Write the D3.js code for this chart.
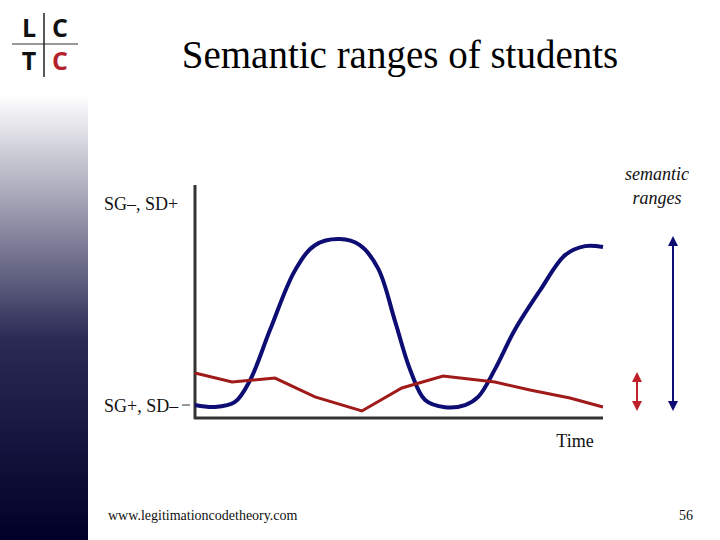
<!DOCTYPE html><html><head><meta charset="utf-8"><script src="https://cdn.jsdelivr.net/npm/d3@7"></script>
<style>body{margin:0}svg{display:block}</style></head><body><svg id="c" width="720" height="540"></svg>
<script>
const blueX=[0,4.9,9.8,13.5,18.4,24.5,29.4,35.5,40.4,44.9,49,52.7,56.4,61.3,66.2,69.4,73.5,78.4,84.6,90.7,95.6,100];
const blueY=[7.2,6.1,8.9,21,49,82,96,99.4,96,83,54,27,10,6,7.2,11.7,27,49,71,90.5,95.5,95];
const redX=[0,9.1,19.6,29.4,40.9,50.7,60.8,73.5,82.1,91.9,100];
const redY=[25,20,22.2,11.7,3.9,16.7,23.3,20,15.6,11.1,6.1];
const yLabels=["SG–, SD+","SG+, SD–"];
const svg=d3.select("#c");
const defs=svg.append("defs");
const g=defs.append("linearGradient").attr("id","gr").attr("x1",0).attr("x2",0).attr("y1",0).attr("y2",1);
g.append("stop").attr("offset","0").attr("stop-color","#ffffff");
g.append("stop").attr("offset","0.55").attr("stop-color","#2a2a55");
g.append("stop").attr("offset","1").attr("stop-color","#000028");
svg.append("rect").attr("x",0).attr("y",95).attr("width",88).attr("height",445).attr("fill","url(#gr)");
const L=svg.append("g");
L.append("line").attr("x1",12).attr("x2",78).attr("y1",44).attr("y2",44).attr("stroke","#999").attr("stroke-width",2);
L.append("line").attr("x1",44).attr("x2",44).attr("y1",13).attr("y2",77).attr("stroke","#222").attr("stroke-width",1.5);
[["L",29,37,"#111"],["C",60,37,"#111"],["T",29,70,"#111"],["C",60,70,"#b5222d"]].forEach(d=>L.append("text").attr("x",d[1]).attr("y",d[2]).attr("text-anchor","middle").attr("font-family","Open Sans").attr("font-weight","bold").attr("font-size",25).attr("fill",d[3]).text(d[0]));
svg.append("text").attr("x",400).attr("y",68).attr("text-anchor","middle").attr("font-family","Liberation Serif").attr("font-size",39).text("Semantic ranges of students");
const x=d3.scaleLinear().domain([0,100]).range([195,603]);
const y=d3.scaleLinear().domain([0,100]).range([418,238]);
svg.append("line").attr("x1",195).attr("x2",195).attr("y1",185).attr("y2",419).attr("stroke","#333").attr("stroke-width",3);
svg.append("line").attr("x1",194).attr("x2",603).attr("y1",y(0)).attr("y2",y(0)).attr("stroke","#333").attr("stroke-width",3);
svg.append("line").attr("x1",182).attr("x2",190).attr("y1",405).attr("y2",405).attr("stroke","#333");
svg.append("path").attr("d",d3.line().x(d=>x(d[0])).y(d=>y(d[1])).curve(d3.curveCatmullRom)(blueX.map((v,i)=>[v,blueY[i]]))).attr("fill","none").attr("stroke","#0d0d73").attr("stroke-width",4);
svg.append("path").attr("d",d3.line().x(d=>x(d[0])).y(d=>y(d[1]))(redX.map((v,i)=>[v,redY[i]]))).attr("fill","none").attr("stroke","#a01a1a").attr("stroke-width",3);
const T=(t,xx,yy,o={})=>svg.append("text").attr("x",xx).attr("y",yy).attr("font-family","Liberation Serif").attr("font-size",o.s||18).attr("text-anchor",o.a||"start").attr("font-style",o.i?"italic":"normal").attr("fill","#111").text(t);
T(yLabels[0],104,210);T(yLabels[1],104,412);
T("Time",575,447,{a:"middle"});
T("semantic",657,180,{a:"middle",i:1});T("ranges",657,204,{a:"middle",i:1});
T("www.legitimationcodetheory.com",108,520,{s:14});T("56",693,520,{s:14,a:"end"});
function arrow(xx,y1,y2,c){
 svg.append("line").attr("x1",xx).attr("x2",xx).attr("y1",y1+8).attr("y2",y2-8).attr("stroke",c).attr("stroke-width",2);
 svg.append("path").attr("d",`M${xx},${y1}L${xx-5},${y1+10}L${xx+5},${y1+10}Z`).attr("fill",c);
 svg.append("path").attr("d",`M${xx},${y2}L${xx-5},${y2-10}L${xx+5},${y2-10}Z`).attr("fill",c);
}
arrow(673,236,411,"#0d0d73");arrow(637,372,411,"#c0202a");
</script></body></html>
